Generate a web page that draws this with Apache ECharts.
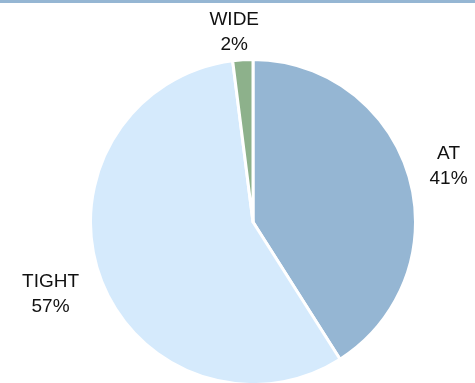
<!DOCTYPE html>
<html>
<head>
<meta charset="utf-8">
<script src="https://cdn.jsdelivr.net/npm/echarts@6/dist/echarts.min.js"></script>
<style>
  html, body { margin: 0; padding: 0; background: #fff; }
  #topbar { width: 475px; height: 3px; background: #95b6d3; }
  #chart { width: 475px; height: 380px; }
</style>
</head>
<body>
<div id="topbar"></div>
<div id="chart"></div>
<script>
// slice order: clockwise from 12 o'clock
const categories = ['AT', 'TIGHT', 'WIDE']
const shares = [41, 57, 2]
const colors = ['#95b6d3', '#d5eafc', '#8db18b']
// label placement along the (hidden) label line
const lineLen = [38, 50, 28]
const lineLen2 = [-21, -31, -23]

const chart = echarts.init(document.getElementById('chart'))

const data = categories.map((name, i) => ({
  name: name,
  value: shares[i],
  itemStyle: { color: colors[i] },
  labelLine: { show: false, length: lineLen[i], length2: lineLen2[i] }
}))

chart.setOption({
  animation: false,
  series: [
    {
      type: 'pie',
      center: [253, 219],
      radius: 162.5,
      startAngle: 90,
      clockwise: true,
      avoidLabelOverlap: false,
      itemStyle: {
        borderColor: '#fff',
        borderWidth: 3
      },
      label: {
        show: true,
        position: 'outside',
        formatter: '{t|{b}}\n{t|{c}%}',
        rich: {
          t: {
            fontFamily: 'Liberation Sans',
            fontSize: 19,
            lineHeight: 25,
            color: '#111',
            align: 'center'
          }
        }
      },
      emphasis: { disabled: true },
      data: data
    }
  ]
})
</script>
</body>
</html>
